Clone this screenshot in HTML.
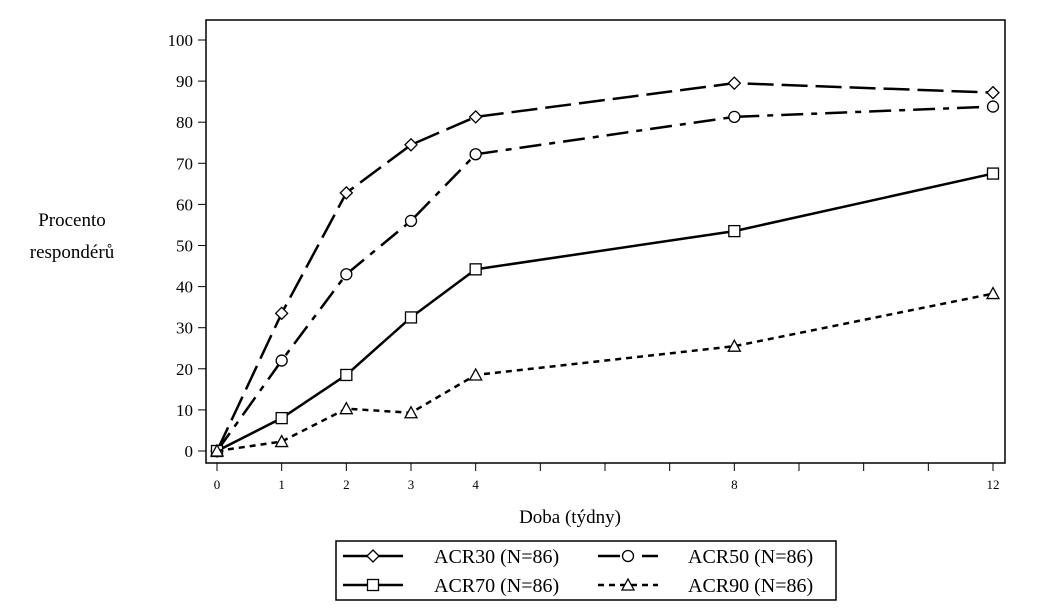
<!DOCTYPE html>
<html><head><meta charset="utf-8"><style>
body{margin:0;background:#fff;}
svg text{font-family:"Liberation Serif",serif;fill:#000;}
</style></head><body>
<svg id="c" width="1043" height="610">
<rect x="206" y="20" width="799" height="443" fill="none" stroke="#000" stroke-width="1.5"/>
<g id="axes"></g><g id="series"></g>
<text x="72" y="226" font-size="19" text-anchor="middle">Procento</text>
<text x="72" y="258" font-size="19" text-anchor="middle">respondérů</text>
<text x="570" y="523" font-size="19" text-anchor="middle">Doba (týdny)</text>
<g>
<rect x="336" y="541" width="500" height="59" fill="none" stroke="#000" stroke-width="1.5"/>
<g id="leg"></g>
</g>
</svg>
<script>
const weeks=[0,1,2,3,4,8,12];
const xTickLabels=[0,1,2,3,4,8,12];
const xMinorTicks=[5,6,7,9,10,11];
const yTicks=[0,10,20,30,40,50,60,70,80,90,100];
const acr30=[0,33.5,62.8,74.5,81.3,89.5,87.2];
const acr50=[0,22,43,56,72.2,81.3,83.8];
const acr70=[0,8,18.5,32.5,44.2,53.5,67.5];
const acr90=[0,2.3,10.3,9.3,18.5,25.5,38.3];
const NS='http://www.w3.org/2000/svg';
const X=w=>217+w*(993-217)/12, Y=v=>451-v*(451-40)/100;
function mk(t,a,p){const e=document.createElementNS(NS,t);for(const k in a)e.setAttribute(k,a[k]);p.appendChild(e);return e;}
const ax=document.getElementById('axes');
yTicks.forEach(v=>{const l=mk('line',{x1:198,x2:206,y1:Y(v),y2:Y(v),stroke:'#000'},ax);


const t=mk('text',{x:193,y:Y(v)+6,'font-size':17,'text-anchor':'end'},ax);t.textContent=v;

});
xTickLabels.concat(xMinorTicks).forEach(w=>{const l=mk('line',{x1:X(w),x2:X(w),y1:463,y2:471,stroke:'#000'},ax);

});
xTickLabels.forEach(w=>{const t=mk('text',{x:X(w),y:489,'font-size':13,'text-anchor':'middle'},ax);t.textContent=w;

});
function marker(kind,x,y,p){let e;
if(kind=='d')e=mk('polygon',{points:`${x},${y-6} ${x+6},${y} ${x},${y+6} ${x-6},${y}`},p);
else if(kind=='o')e=mk('circle',{cx:x,cy:y,r:5.5},p);
else if(kind=='s')e=mk('rect',{x:x-5.5,y:y-5.5,width:11,height:11},p);
else e=mk('polygon',{points:`${x},${y-6} ${x+6},${y+5} ${x-6},${y+5}`},p);
e.setAttribute('fill','#fff');e.setAttribute('stroke','#000');e.setAttribute('stroke-width','1.3');

}
const S=[{d:acr30,m:'d',dash:'26,8',n:'acr30'},{d:acr50,m:'o',dash:'22,8,6,8',n:'acr50'},{d:acr70,m:'s',dash:'',n:'acr70'},{d:acr90,m:'t',dash:'6,5',n:'acr90'}];
const sg=document.getElementById('series');
S.forEach(s=>{const g=mk('g',{},sg);


mk('polyline',{points:weeks.map((w,i)=>X(w)+','+Y(s.d[i])).join(' '),fill:'none',stroke:'#000','stroke-width':2.5,'stroke-dasharray':s.dash},g);
weeks.forEach((w,i)=>marker(s.m,X(w),Y(s.d[i]),g));});
const lg=document.getElementById('leg');
const L=[['d','26,8','ACR30 (N=86)',343,556,434],['o','22,8,6,8','ACR50 (N=86)',598,556,688],['s','','ACR70 (N=86)',343,585,434],['t','6,5','ACR90 (N=86)',598,585,688]];
L.forEach(l=>{const g=mk('g',{},lg);


mk('line',{x1:l[3],x2:l[3]+60,y1:l[4],y2:l[4],stroke:'#000','stroke-width':2.5,'stroke-dasharray':l[1]},g);
marker(l[0],l[3]+30,l[4],g);
const t=mk('text',{x:l[5],y:l[4]+7,'font-size':20},g);t.textContent=l[2];});
</script>
</body></html>
